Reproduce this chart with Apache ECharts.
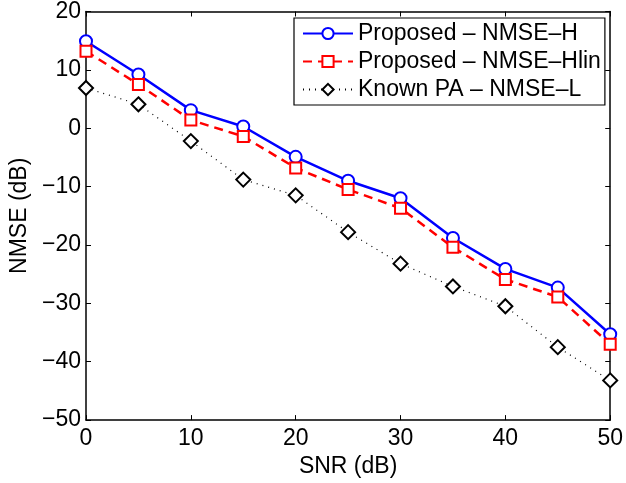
<!DOCTYPE html>
<html><head><meta charset="utf-8">
<script src="https://cdn.jsdelivr.net/npm/echarts@6/dist/echarts.min.js"></script>
<style>html,body{margin:0;padding:0;background:#fff}#c{width:626px;height:483px}</style>
</head><body><div id="c"></div>
<script>
const snr = [0, 5, 10, 15, 20, 25, 30, 35, 40, 45, 50];
const nmseH = [14.9, 9.2, 3.1, 0.3, -4.9, -9.0, -12.0, -18.8, -24.1, -27.3, -35.3];
const nmseHlin = [13.2, 7.5, 1.4, -1.4, -6.8, -10.5, -13.7, -20.4, -25.9, -28.9, -37.0];
const nmseL = [6.9, 4.1, -2.2, -8.8, -11.5, -17.8, -23.2, -27.1, -30.5, -37.5, -43.2];
const seriesNames = ['Proposed \u2013 NMSE\u2013H', 'Proposed \u2013 NMSE\u2013Hlin', 'Known PA \u2013 NMSE\u2013L'];
const xTicks = [0, 10, 20, 30, 40, 50];
const yTicks = [-50, -40, -30, -20, -10, 0, 10, 20];

const font = 'Liberation Sans, Arial, Helvetica, sans-serif';
const fs = 23;
const pair = (ys) => snr.map((x, i) => [x, ys[i]]);
const chart = echarts.init(document.getElementById('c'), null, {renderer: 'canvas'});
const axisLine = {show: true, onZero: false, lineStyle: {color: '#000', width: 1.5}};
const tick = {show: true, inside: true, length: 5, lineStyle: {color: '#000', width: 1}};
chart.setOption({
  animation: false,
  backgroundColor: '#fff',
  grid: {left: 86, right: 12.5, top: 10, bottom: 60.3, containLabel: false},
  legend: {
    orient: 'vertical', left: 294, top: 18,
    data: seriesNames,
    itemWidth: 50, itemHeight: 14, itemGap: 5,
    padding: [4, 4, 4, 8],
    borderColor: '#000', borderWidth: 1.2, backgroundColor: '#fff',
    textStyle: {fontFamily: font, fontSize: fs, color: '#000'}
  },
  xAxis: [{
    type: 'value', min: 0, max: 50, interval: 10, position: 'bottom',
    name: 'SNR (dB)', nameLocation: 'middle', nameGap: 33,
    nameTextStyle: {fontFamily: font, fontSize: fs, color: '#000'},
    axisLine, axisTick: tick, splitLine: {show: false},
    axisLabel: {fontFamily: font, fontSize: fs, color: '#000', margin: 7,
      formatter: v => xTicks.includes(v) ? String(v) : ''}
  }, {
    type: 'value', min: 0, max: 50, interval: 10, position: 'top',
    axisLine, axisTick: tick, splitLine: {show: false}, axisLabel: {show: false}
  }],
  yAxis: [{
    type: 'value', min: -50, max: 20, interval: 10, position: 'left',
    name: 'NMSE (dB)', nameLocation: 'middle', nameGap: 52,
    nameTextStyle: {fontFamily: font, fontSize: fs, color: '#000'},
    axisLine, axisTick: tick, splitLine: {show: false},
    axisLabel: {fontFamily: font, fontSize: fs, color: '#000', margin: 5,
      formatter: v => yTicks.includes(v) ? String(v).replace('-', '\u2212') : ''}
  }, {
    type: 'value', min: -50, max: 20, interval: 10, position: 'right',
    axisLine, axisTick: tick, splitLine: {show: false}, axisLabel: {show: false}
  }],
  series: [{
    name: seriesNames[0], type: 'line', data: pair(nmseH),
    symbol: 'emptyCircle', symbolSize: 12,
    lineStyle: {color: '#0000ff', width: 2.5, type: 'solid'},
    itemStyle: {color: '#0000ff', borderColor: '#0000ff', borderWidth: 2.2}
  }, {
    name: seriesNames[1], type: 'line', data: pair(nmseHlin),
    symbol: 'emptyRect', symbolSize: 11,
    lineStyle: {color: '#ff0000', width: 2.5, type: [9, 6]},
    itemStyle: {color: '#ff0000', borderColor: '#ff0000', borderWidth: 2.5}
  }, {
    name: seriesNames[2], type: 'line', data: pair(nmseL),
    symbol: 'emptyDiamond', symbolSize: 14,
    lineStyle: {color: '#000', width: 1.2, type: [1, 5]},
    itemStyle: {color: '#000', borderColor: '#000', borderWidth: 2.5}
  }]
});
</script></body></html>
